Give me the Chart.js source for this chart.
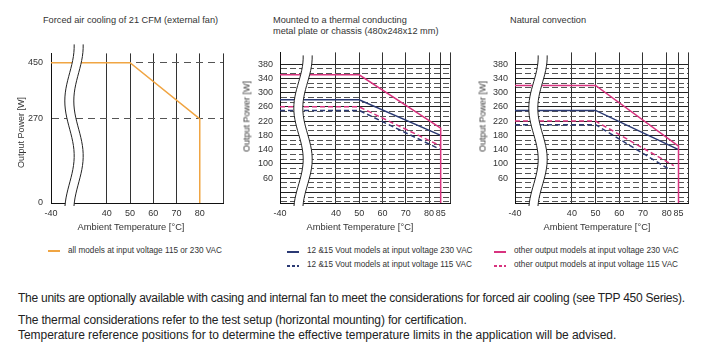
<!DOCTYPE html>
<html>
<head>
<meta charset="utf-8">
<script src="https://cdn.jsdelivr.net/npm/chart.js@4.4.0/dist/chart.umd.min.js"></script>
<style>
  body { margin: 0; width: 703px; height: 354px; background: #fff; position: relative; overflow: hidden; }
  .t { position: absolute; font-family: "Liberation Sans", Arial, sans-serif; color: #333; white-space: nowrap; line-height: 1; }
  .ttl { font-size: 9.2px; }
  .ax { font-size: 9.3px; width: 200px; text-align: center; }
  .yt { font-size: 9px; width: 100px; text-align: center; transform: rotate(-90deg); }
  .lgt { font-size: 8.2px; color: #333; }
  .sw { position: absolute; height: 1.5px; width: 12px; }
  .p { position: absolute; left: 18px; font-family: "Liberation Sans", Arial, sans-serif; font-size: 12px; color: #222; white-space: nowrap; line-height: 12px; letter-spacing: -0.25px; }
  canvas { position: absolute; }
</style>
</head>
<body>

<div class="t ttl" style="left:43px;top:16px">Forced air cooling of 21 CFM (external fan)</div>
<div class="t ttl" style="left:273px;top:16px">Mounted to a thermal conducting</div>
<div class="t ttl" style="left:273px;top:27px">metal plate or chassis (480x248x12 mm)</div>
<div class="t ttl" style="left:510px;top:16px">Natural convection</div>

<canvas id="c1" width="235" height="190" style="left:0;top:40px"></canvas>
<canvas id="c2" width="232" height="190" style="left:230px;top:40px"></canvas>
<canvas id="c3" width="238" height="190" style="left:465px;top:40px"></canvas>

<div class="t yt" style="left:-29px;top:128px">Output Power [W]</div>
<div class="t yt" style="left:197px;top:112px">Output Power [W]</div>
<div class="t yt" style="left:433px;top:112px">Output Power [W]</div>

<div class="t ax" style="left:31px;top:223px">Ambient Temperature [°C]</div>
<div class="t ax" style="left:260px;top:223px">Ambient Temperature [°C]</div>
<div class="t ax" style="left:497px;top:223px">Ambient Temperature [°C]</div>

<div class="sw" style="left:48px;top:250px;background:#f0a543"></div>
<div class="t lgt" style="left:68px;top:247px">all models at input voltage 115 or 230 VAC</div>

<div class="sw" style="left:287px;top:251px;background:#2b3a74"></div>
<div class="t lgt" style="left:307px;top:247px">12 &amp;15 Vout models at input voltage 230 VAC</div>
<div class="sw" style="left:287px;top:265px;background:repeating-linear-gradient(90deg,#2b3a74 0 3px,transparent 3px 5px)"></div>
<div class="t lgt" style="left:307px;top:261px">12 &amp;15 Vout models at input voltage 115 VAC</div>

<div class="sw" style="left:494px;top:251px;background:#d8337f"></div>
<div class="t lgt" style="left:514px;top:247px">other output models at input voltage 230 VAC</div>
<div class="sw" style="left:494px;top:265px;background:repeating-linear-gradient(90deg,#d8337f 0 3px,transparent 3px 5px)"></div>
<div class="t lgt" style="left:514px;top:261px">other output models at input voltage 115 VAC</div>

<div class="p" style="top:292px">The units are optionally available with casing and internal fan to meet the considerations for forced air cooling (see TPP 450 Series).</div>
<div class="p" style="top:314px;letter-spacing:-0.15px">The thermal considerations refer to the test setup (horizontal mounting) for certification.</div>
<div class="p" style="top:329px;letter-spacing:-0.05px">Temperature reference positions for to determine the effective temperature limits in the application will be advised.</div>

<script>
// forced air cooling
const p1Temp = [-40, 50, 80, 80];
const p1Power = [450, 450, 270, 0];

// metal plate
const p2Temp = [-40, 50, 85];
const p2Std230 = [280, 280, 180];
const p2Std115 = [250, 250, 140];
const p2OtherTemp = [-40, 50, 85, 85];
const p2Other230 = [350, 350, 200, -10];
const p2Other115 = [260, 260, 150];

// natural convection
const p3Temp = [-40, 50, 85];
const p3Std230 = [250, 250, 140];
const p3Std115Temp = [-40, 50, 81];
const p3Std115 = [210, 210, 85];
const p3OtherTemp = [-40, 50, 85, 85];
const p3Other230 = [320, 320, 150, -10];
const p3Other115Temp = [-40, 50, 83];
const p3Other115 = [220, 220, 95];

const xTicks1 = [-40, 40, 50, 60, 70, 80];
const xTicks23 = [-40, 40, 50, 60, 70, 80, 85];
const yTicks1 = [0, 270, 450];
const yTicks23 = [60, 100, 140, 180, 220, 260, 300, 340, 380];

const ORANGE = '#f0a543', NAVY = '#2b3a74', PINK = '#d8337f';
const FONT = { family: '"Liberation Sans", Arial, sans-serif', size: 9 };

// the axis is broken between -40 and 40
const brk = t => t < 40 ? 16 + (t + 40) * 0.3 : t;
const pts = (temps, vals) => temps.map((t, i) => ({ x: brk(t), y: vals[i] }));

const breakPlugin = {
  id: 'axisBreak',
  afterDatasetsDraw(chart, args, opts) {
    const { ctx, chartArea: a } = chart;
    const y0 = a.top + opts.top, y1 = a.bottom + 3;
    const curve = dx => {
      const out = [];
      for (let i = 0; i <= 40; i++) {
        const t = i / 40;
        out.push([a.left + 18.5 + dx + 4.7 * Math.sin(2 * Math.PI * (t - 0.35) / 0.68 - Math.PI / 2), y0 + t * (y1 - y0)]);
      }
      return out;
    };
    const L = curve(0), R = curve(9);
    ctx.save();
    ctx.beginPath();
    L.forEach(([x, y], i) => i ? ctx.lineTo(x, y) : ctx.moveTo(x, y));
    R.slice().reverse().forEach(([x, y]) => ctx.lineTo(x, y));
    ctx.closePath();
    ctx.fillStyle = '#fff';
    ctx.fill();
    ctx.strokeStyle = '#222';
    ctx.lineWidth = 1;
    [L, R].forEach(p => {
      ctx.beginPath();
      p.forEach(([x, y], i) => i ? ctx.lineTo(x, y) : ctx.moveTo(x, y));
      ctx.stroke();
    });
    ctx.restore();
  }
};

function line(data, color, dashed) {
  return {
    data: data, borderColor: color, borderWidth: 1.5, borderDash: dashed ? [5, 3] : [],
    pointRadius: 0, tension: 0, fill: false
  };
}

function xAxis(ticks, max) {
  return {
    type: 'linear', min: 16, max: max, bounds: 'data',
    afterBuildTicks: s => { s.ticks = ticks.map(t => ({ value: brk(t) })).concat([{ value: max }]); },
    afterFit: s => { s.height = 27; },
    ticks: {
      autoSkip: false, maxRotation: 0, padding: 5, color: '#333', font: FONT,
      callback: v => { const t = ticks.find(t => brk(t) === v); return t === undefined ? '' : String(t); }
    },
    grid: { drawTicks: false, color: '#333', lineWidth: 1 },
    border: { color: '#111', width: 1 }
  };
}

new Chart(document.getElementById('c1'), {
  type: 'line',
  data: { datasets: [line(pts(p1Temp, p1Power), ORANGE, false)] },
  options: {
    responsive: false, animation: false, events: [],
    layout: { padding: { top: 12, right: 12, left: 0, bottom: 0 } },
    plugins: { legend: { display: false }, tooltip: { enabled: false }, axisBreak: { top: -9 } },
    scales: {
      x: xAxis(xTicks1, 90),
      y: {
        type: 'linear', min: 0, max: 480, bounds: 'data',
        afterBuildTicks: s => { s.ticks = yTicks1.map(v => ({ value: v })); },
        afterFit: s => { s.width = 51; },
        ticks: { autoSkip: false, padding: 8, color: '#333', font: FONT },
        grid: { drawTicks: false, color: c => c.tick && c.tick.value === 0 ? 'rgba(0,0,0,0)' : '#555', lineWidth: 1 },
        border: { color: '#111', width: 1, dash: c => c.tick ? [7, 5] : [] }
      }
    }
  },
  plugins: [breakPlugin]
});

// panels 2 and 3: solid line every 40 W, two dashed lines in between
const yGrid = [];
for (let k = -2; k <= 27; k++) yGrid.push({ value: 20 + k * 40 / 3, solid: k % 3 === 0 });

function yAxis23() {
  return {
    type: 'linear', min: -10, max: 413, bounds: 'data',
    afterBuildTicks: s => { s.ticks = yGrid.map(g => ({ value: g.value, solid: g.solid })); },
    afterFit: s => { s.width = 50; },
    ticks: {
      autoSkip: false, padding: 7, color: '#333', font: FONT,
      callback: (v, i, ticks) => { const r = Math.round(v); return ticks[i].solid && yTicks23.includes(r) ? String(r) : ''; }
    },
    grid: { drawTicks: false, color: c => c.tick && c.tick.solid ? '#222' : '#555', lineWidth: 1 },
    border: { color: '#111', width: 1, dash: c => c.tick && !c.tick.solid ? [6, 3] : [] }
  };
}

function opts23(max, padRight) {
  return {
    responsive: false, animation: false, events: [],
    layout: { padding: { top: 12, right: padRight, left: 0, bottom: 0 } },
    plugins: { legend: { display: false }, tooltip: { enabled: false }, axisBreak: { top: 3 } },
    scales: { x: xAxis(xTicks23, max), y: yAxis23() }
  };
}

new Chart(document.getElementById('c2'), {
  type: 'line',
  data: {
    datasets: [
      line(pts(p2OtherTemp, p2Other230), PINK, false),
      line(pts(p2Temp, p2Std230), NAVY, false),
      line(pts(p2Temp, p2Other115), PINK, true),
      line(pts(p2Temp, p2Std115), NAVY, true)
    ]
  },
  options: opts23(89, 12),
  plugins: [breakPlugin]
});

new Chart(document.getElementById('c3'), {
  type: 'line',
  data: {
    datasets: [
      line(pts(p3OtherTemp, p3Other230), PINK, false),
      line(pts(p3Temp, p3Std230), NAVY, false),
      line(pts(p3Other115Temp, p3Other115), PINK, true),
      line(pts(p3Std115Temp, p3Std115), NAVY, true)
    ]
  },
  options: opts23(89, 15),
  plugins: [breakPlugin]
});
</script>
</body>
</html>
